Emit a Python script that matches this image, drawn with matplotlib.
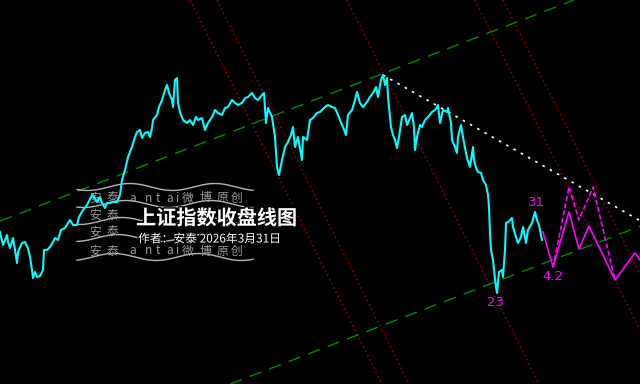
import numpy as np
import matplotlib
matplotlib.use('Agg')
import matplotlib.pyplot as plt
import matplotlib.patheffects as pe

plt.rcParams['font.family'] = ['Noto Sans CJK SC', 'DejaVu Sans']

# ---- data (trading-day index, closing level) ----
days = [0, 3, 7, 8, 10, 13, 15, 17, 18, 22, 25, 28, 30, 32, 33, 35, 37, 40, 43, 44,
        47, 50, 53, 55, 58, 61, 65, 68, 70, 73, 77, 79, 83, 87, 91, 93, 97, 100, 102, 105,
        107, 110, 113, 117, 120, 122, 125, 128, 132, 135, 137, 140, 142, 145, 148, 150, 152, 153, 157, 159,
        162, 165, 167, 169, 172, 173, 175, 177, 178, 180, 183, 187, 190, 193, 196, 198, 202, 205, 208, 212,
        215, 218, 222, 225, 228, 232, 235, 238, 242, 245, 248, 252, 255, 258, 262, 264, 266, 268, 272, 275,
        277, 279, 282, 285, 288, 291, 293, 295, 298, 302, 303, 307, 310, 313, 317, 320, 325, 328, 332, 335,
        338, 340, 343, 346, 348, 352, 355, 357, 360, 363, 367, 370, 373, 376, 378, 381, 383, 385, 387, 388,
        391, 393, 395, 397, 399, 402, 405, 407, 410, 412, 414, 415, 417, 420, 422, 425, 428, 432, 435, 437,
        438, 440, 443, 447, 448, 451, 452, 455, 457, 458, 461, 463, 465, 467, 470, 473, 474, 476, 478, 481,
        483, 486, 488, 489, 490, 491, 493, 494, 496, 497, 499, 502, 503, 505, 506, 508, 512, 513, 516, 518,
        521, 523, 526, 528, 532, 535, 537, 539, 542]
close = [3304, 3265, 3295, 3274, 3256, 3286, 3250, 3211, 3244, 3271, 3274, 3256, 3229, 3190, 3166, 3184, 3169, 3172, 3190, 3250,
         3250, 3259, 3274, 3286, 3280, 3310, 3316, 3331, 3340, 3325, 3325, 3349, 3370, 3385, 3409, 3415, 3394, 3409, 3391, 3376,
         3391, 3391, 3394, 3394, 3415, 3460, 3490, 3529, 3559, 3589, 3604, 3610, 3586, 3601, 3604, 3589, 3616, 3640, 3655, 3679,
         3700, 3730, 3745, 3721, 3700, 3679, 3760, 3766, 3691, 3664, 3640, 3631, 3640, 3625, 3649, 3640, 3646, 3610, 3631, 3649,
         3670, 3661, 3655, 3676, 3679, 3700, 3691, 3685, 3691, 3706, 3709, 3721, 3706, 3700, 3715, 3721, 3631, 3676, 3649, 3589,
         3499, 3475, 3520, 3559, 3574, 3595, 3619, 3559, 3589, 3520, 3589, 3580, 3640, 3646, 3661, 3664, 3679, 3685, 3679, 3676,
         3655, 3640, 3619, 3595, 3655, 3670, 3700, 3724, 3691, 3679, 3694, 3709, 3721, 3739, 3709, 3760, 3775, 3745, 3766, 3709,
         3619, 3595, 3580, 3556, 3589, 3649, 3655, 3625, 3646, 3661, 3619, 3550, 3589, 3625, 3619, 3640, 3649, 3664, 3670, 3679,
         3685, 3631, 3670, 3664, 3676, 3631, 3580, 3559, 3541, 3589, 3625, 3589, 3556, 3526, 3499, 3559, 3520, 3496, 3484, 3481,
         3460, 3445, 3415, 3379, 3301, 3250, 3220, 3190, 3139, 3121, 3184, 3190, 3169, 3250, 3331, 3334, 3346, 3319, 3289, 3271,
         3289, 3319, 3271, 3310, 3331, 3364, 3340, 3325, 3280]

# forecast paths
fc_days = [543, 553, 569, 579, 589, 615, 635, 640]
fc_solid = [3304, 3199, 3364, 3253, 3322, 3160, 3241, 3220]
alt_days = [553, 569, 579, 593, 615]
fc_dashed = [3199, 3439, 3340, 3439, 3160]

# annotations
label_text = ["31", "4.2", "23"]
label_day = [536, 553, 496]
label_level = [3394, 3169, 3094]

# channel / time lines
channel_slope = 1.155
channel_upper0 = 3337
channel_lower0 = 2582
time_line_days = [190, 217, 347, 475, 503]
time_line_slope = -6.0
resist_slope = -1.70

title = "上证指数收盘线图"
subtitle = "作者：安泰 2026年3月31日"
wm_chars = ["安", "泰", "a", "n", "t", "a", "i", "微", "博", "原", "创"]

# ---- figure ----
W, H = 640, 384
fig = plt.figure(figsize=(6.4, 3.84), dpi=100, facecolor='black')
ax = fig.add_axes([0, 0, 1, 1])
ax.set_facecolor('black')
ax.set_xlim(0, 640)
ax.set_ylim(2848, 4000)
ax.set_xticks([])
ax.set_yticks([])
for s in ax.spines.values():
    s.set_visible(False)

# red dotted time lines
for d in time_line_days:
    ax.axline((d, 4000), slope=time_line_slope, color='#a00000', lw=1.0,
              linestyle=(0, (1.2, 2.2)), zorder=1)

# green dashed channel
for b in (channel_upper0, channel_lower0):
    ax.axline((0, b), slope=channel_slope, color='#008c00', lw=1.0,
              linestyle=(0, (9, 6)), zorder=1)

# white dotted resistance from peak
ipk = int(np.argmax(close))
pk_d, pk_v = days[ipk], close[ipk]
ax.plot([pk_d, 640], [pk_v, pk_v + resist_slope * (640 - pk_d)], color='white',
        lw=1.2, linestyle=(0, (1.5, 3.5)), zorder=2)

# watermark
def fx(px):
    return px / W

def fy(py):
    return 1 - py / H

for i, y0 in enumerate([187, 204, 221, 238, 257]):
    xs = np.linspace(77, 253, 200)
    ys = y0 + 3.5 * np.sin((xs - 77) / 85 * 2 * np.pi + 0.8 + i * 0.3)
    ax.plot(fx(xs), fy(ys), transform=ax.transAxes, color='#b4b4b4', lw=1.0, zorder=3)

wm_x = [95, 112, 133, 148, 158, 170, 177, 188, 205, 222, 237]
wm_rows = [198, 215, 232, 251]
for r, ry in enumerate(wm_rows):
    for ch, xx in zip(wm_chars, wm_x):
        if r in (1, 2) and xx >= 130:
            continue  # covered by the title block
        ax.text(fx(xx), fy(ry), ch, transform=ax.transAxes, color='#9a9a9a',
                fontsize=8.5, ha='center', va='center', zorder=3)

# price line
ax.plot(days, close, color='#00ffff', lw=1.5, zorder=5)

# forecast
ax.plot(fc_days, fc_solid, color='#ff00ff', lw=1.2, zorder=5)
ax.plot(alt_days, fc_dashed, color='#ff00ff', lw=1.2, linestyle=(0, (3, 1.5)), zorder=5)

for t, d, v in zip(label_text, label_day, label_level):
    ax.text(d, v, t, color='#ff00ff', fontsize=9.5, ha='center', va='center',
            family='DejaVu Sans', zorder=6)

# title texts
ax.text(fx(136), fy(218), title, transform=ax.transAxes, color='white', fontsize=14.5,
        fontweight='bold', ha='left', va='center', zorder=7,
        path_effects=[pe.withStroke(linewidth=2, foreground='black')])
ax.text(fx(138), fy(239), subtitle, transform=ax.transAxes, color='white', fontsize=8.5,
        ha='left', va='center', zorder=7,
        path_effects=[pe.withStroke(linewidth=1.5, foreground='black')])

fig.savefig('out.png', dpi=100, facecolor='black')
